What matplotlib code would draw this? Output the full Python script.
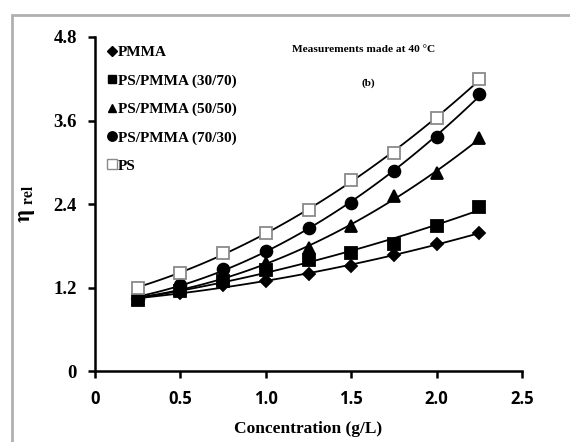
import numpy as np
import matplotlib.pyplot as plt
from matplotlib.patches import Rectangle
from matplotlib.lines import Line2D

conc = [0.25, 0.5, 0.75, 1.0, 1.25, 1.5, 1.75, 2.0, 2.25]
pmma = [1.03, 1.12, 1.23, 1.30, 1.40, 1.51, 1.66, 1.82, 1.99]
ps_pmma_30_70 = [1.02, 1.15, 1.30, 1.45, 1.60, 1.70, 1.83, 2.09, 2.36]
ps_pmma_50_50 = [1.04, 1.18, 1.35, 1.55, 1.77, 2.09, 2.51, 2.84, 3.35]
ps_pmma_70_30 = [1.05, 1.23, 1.47, 1.73, 2.06, 2.41, 2.87, 3.36, 3.98]
ps = [1.20, 1.41, 1.69, 1.98, 2.32, 2.75, 3.13, 3.63, 4.20]

labels = ["PMMA", "PS/PMMA (30/70)", "PS/PMMA (50/50)", "PS/PMMA (70/30)", "PS"]
series = [pmma, ps_pmma_30_70, ps_pmma_50_50, ps_pmma_70_30, ps]
markers = ["D", "s", "^", "o", "s"]
msizes = [6.5, 8, 8, 8.5, 9]
faces = ["black", "black", "black", "black", "white"]
edges = ["black", "black", "black", "black", "#8a8a8a"]

serif = "Liberation Serif"
plt.rcParams["mathtext.fontset"] = "stix"

fig = plt.figure(figsize=(5.7, 4.42), dpi=100)
fig.patches.append(Rectangle((12 / 570, -0.05), 1.3, (442 - 15) / 442 + 0.05,
                             transform=fig.transFigure, fill=False,
                             edgecolor="#b0b0b0", linewidth=2))
ax = fig.add_axes([0.1667, 0.1606, 0.7491, 0.7557])

xs = np.linspace(conc[0], conc[-1], 100)
for y, m, ms, fc, ec, lab in zip(series, markers, msizes, faces, edges, labels):
    fit = np.polyfit(conc, y, 2)
    ax.plot(xs, np.polyval(fit, xs), color="black", linewidth=1.3, zorder=2)
    ax.plot(conc, y, linestyle="none", marker=m, markersize=ms,
            markerfacecolor=fc, markeredgecolor=ec, markeredgewidth=1.3,
            zorder=3, label=lab)

ax.set_xlim(0, 2.5)
ax.set_ylim(0, 4.8)
ax.set_xticks([0, 0.5, 1.0, 1.5, 2.0, 2.5])
ax.set_xticklabels(["0", "0.5", "1.0", "1.5", "2.0", "2.5"],
                   fontsize=12, fontweight="bold", family="Open Sans")
ax.set_yticks([0, 1.2, 2.4, 3.6, 4.8])
ax.set_yticklabels(["0", "1.2", "2.4", "3.6", "4.8"],
                   fontsize=13.5, fontweight="bold", family=serif)
ax.spines["top"].set_visible(False)
ax.spines["right"].set_visible(False)
ax.spines["left"].set_linewidth(1.8)
ax.spines["bottom"].set_linewidth(1.8)
ax.tick_params(direction="out", length=5, width=1.8)
ax.tick_params(axis="x", pad=9)
ax.tick_params(axis="y", pad=8)

ax.set_xlabel("Concentration (g/L)", fontsize=12.5, fontweight="bold",
              family=serif, labelpad=9)
ax.set_ylabel(r"$\mathbf{\eta}\ _{\mathbf{rel}}$", fontsize=16,
              labelpad=12)

handles = [Line2D([], [], linestyle="none", marker=m, markersize=ms * 0.8,
                  markerfacecolor=fc, markeredgecolor=ec)
           for m, ms, fc, ec in zip(markers, msizes, faces, edges)]
ax.legend(handles, labels, loc="upper left", bbox_to_anchor=(0.0, 1.015),
          frameon=False, handlelength=0.4, handletextpad=0.2,
          labelspacing=0.95, prop={"family": serif, "weight": "bold", "size": 11})

ax.text(0.461, 0.955, "Measurements made at 40 °C", transform=ax.transAxes,
        fontsize=8.2, fontweight="bold", family=serif)
ax.text(0.623, 0.853, "(b)", transform=ax.transAxes,
        fontsize=8, fontweight="bold", family=serif)

fig.savefig("out.png", dpi=100)
